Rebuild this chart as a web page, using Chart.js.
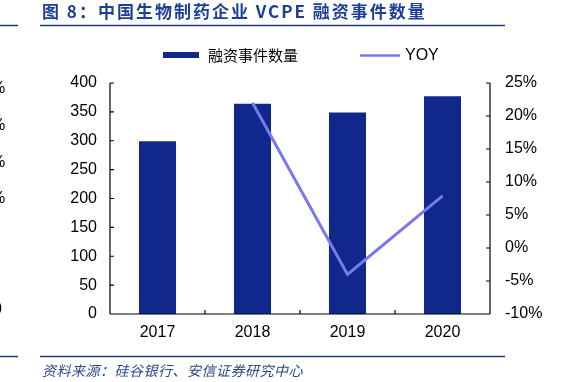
<!DOCTYPE html>
<html>
<head>
<meta charset="utf-8">
<script src="https://cdn.jsdelivr.net/npm/chart.js@4.4.1/dist/chart.umd.min.js"></script>
<style>
html,body{margin:0;padding:0;background:#fff;}
#wrap{position:relative;width:581px;height:382px;}
canvas{display:block;}
</style>
</head>
<body>
<div id="wrap"><canvas id="c" width="581" height="382"></canvas></div>
<script>
const categories = ['2017', '2018', '2019', '2020'];
const financingCounts = [299, 364, 349, 377];
const yoyPercent = [null, 22.0, -4.0, 7.9];
const leftTickValues = [0, 50, 100, 150, 200, 250, 300, 350, 400];
const rightTickValues = [-10, -5, 0, 5, 10, 15, 20, 25];
const titleText = '图 8：中国生物制药企业 VCPE 融资事件数量';
const sourceText = '资料来源：硅谷银行、安信证券研究中心';
const barLabel = '融资事件数量';
const lineLabel = 'YOY';

const BAR_COLOR = '#10288C';
const LINE_COLOR = '#7878F0';
const NAVY = '#1F3A78';
const LATIN = '"Liberation Sans", Arial, sans-serif';
const CJK = '"Noto Sans CJK SC", sans-serif';

const decor = {
  id: 'decor',
  afterDraw(chart) {
    const ctx = chart.ctx;
    const a = chart.chartArea;
    const sx = chart.scales.x, sy = chart.scales.y, sy1 = chart.scales.y1;
    ctx.save();
    // axes
    ctx.strokeStyle = '#000';
    ctx.lineWidth = 1.2;
    ctx.beginPath();
    ctx.moveTo(a.left, a.top); ctx.lineTo(a.left, a.bottom);
    ctx.moveTo(a.right, a.top); ctx.lineTo(a.right, a.bottom);
    ctx.moveTo(a.left, a.bottom); ctx.lineTo(a.right, a.bottom);
    leftTickValues.forEach(v => { const y = sy.getPixelForValue(v); ctx.moveTo(a.left, y); ctx.lineTo(a.left + 4, y); });
    rightTickValues.forEach(v => { const y = sy1.getPixelForValue(v); ctx.moveTo(a.right, y); ctx.lineTo(a.right - 4, y); });
    for (let i = 1; i < categories.length; i++) {
      const x = (sx.getPixelForValue(i - 1) + sx.getPixelForValue(i)) / 2;
      ctx.moveTo(x, a.bottom); ctx.lineTo(x, a.bottom - 4);
    }
    ctx.stroke();

    // title
    ctx.fillStyle = '#1B3F94';
    ctx.font = 'bold 17px ' + CJK;
    ctx.textBaseline = 'middle';
    ctx.textAlign = 'left';
    if ('letterSpacing' in ctx) ctx.letterSpacing = '2px';
    ctx.fillText(titleText, 42, 12);
    if ('letterSpacing' in ctx) ctx.letterSpacing = '0px';

    // rules
    ctx.strokeStyle = NAVY;
    ctx.lineWidth = 1.5;
    ctx.beginPath();
    ctx.moveTo(0, 25.5); ctx.lineTo(18, 25.5);
    ctx.moveTo(40, 25.5); ctx.lineTo(505, 25.5);
    ctx.moveTo(0, 356.5); ctx.lineTo(18, 356.5);
    ctx.moveTo(40, 356.5); ctx.lineTo(505, 356.5);
    ctx.stroke();

    // source
    ctx.fillStyle = '#2A4A8C';
    ctx.font = 'italic 14px ' + CJK;
    if ('letterSpacing' in ctx) ctx.letterSpacing = '0.5px';
    ctx.fillText(sourceText, 42, 371);
    if ('letterSpacing' in ctx) ctx.letterSpacing = '0px';

    // legend
    ctx.fillStyle = BAR_COLOR;
    ctx.fillRect(163, 52, 36, 6);
    ctx.fillStyle = '#000';
    ctx.font = '15px ' + CJK;
    ctx.fillText(barLabel, 208, 55);
    ctx.strokeStyle = LINE_COLOR;
    ctx.lineWidth = 2.5;
    ctx.beginPath(); ctx.moveTo(360, 55.5); ctx.lineTo(400, 55.5); ctx.stroke();
    ctx.fillStyle = '#000';
    ctx.font = '16px ' + LATIN;
    ctx.fillText(lineLabel, 405, 56);

    // neighbouring chart fragments at left edge
    ctx.font = '16px ' + LATIN;
    ctx.textAlign = 'left';
    [89, 126, 163, 199].forEach(y => ctx.fillText('%', -9, y));
    ctx.fillText('0', -7, 310);
    ctx.restore();
  }
};

new Chart(document.getElementById('c'), {
  data: {
    labels: categories,
    datasets: [
      {
        type: 'line', label: lineLabel, data: yoyPercent, yAxisID: 'y1',
        borderColor: LINE_COLOR, borderWidth: 3, pointRadius: 0, tension: 0, order: 0
      },
      {
        type: 'bar', label: barLabel, data: financingCounts, yAxisID: 'y',
        backgroundColor: BAR_COLOR, borderWidth: 0,
        barPercentage: 0.39, categoryPercentage: 1, order: 1
      }
    ]
  },
  options: {
    responsive: false,
    animation: false,
    devicePixelRatio: 1,
    layout: { padding: { top: 83, left: 0, right: 0, bottom: 0 } },
    plugins: { legend: { display: false }, title: { display: false }, tooltip: { enabled: false } },
    scales: {
      x: {
        offset: true,
        grid: { display: false, drawTicks: false },
        border: { display: false },
        ticks: { color: '#000', font: { family: LATIN, size: 16 }, padding: 9, maxRotation: 0 },
        afterFit: s => { s.height = 68; }
      },
      y: {
        position: 'left', min: 0, max: 400,
        grid: { display: false, drawTicks: false },
        border: { display: false },
        ticks: { stepSize: 50, color: '#000', font: { family: LATIN, size: 16 }, padding: 13 },
        afterFit: s => { s.width = 110; }
      },
      y1: {
        position: 'right', min: -10, max: 25,
        grid: { display: false, drawTicks: false },
        border: { display: false },
        ticks: { stepSize: 5, color: '#000', font: { family: LATIN, size: 16 }, padding: 15, callback: v => v + '%' },
        afterFit: s => { s.width = 91; }
      }
    }
  },
  plugins: [decor]
});
</script>
</body>
</html>
